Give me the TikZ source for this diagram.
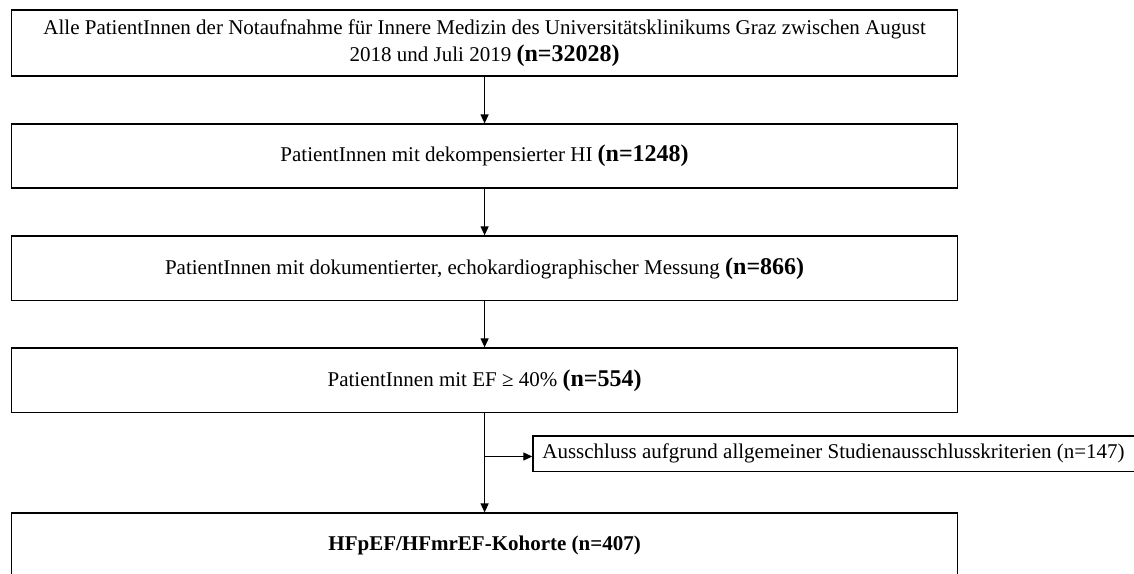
\documentclass[tikz,border=0pt]{standalone}
\usepackage{fontspec}
\setmainfont{Liberation Serif}
\usetikzlibrary{arrows.meta}

\newcommand{\regtext}{\fontsize{21}{26.5}\selectfont}
\newcommand{\ncount}[1]{{\fontsize{24}{26.5}\selectfont\bfseries #1}}

\tikzset{
  flowbox/.style={draw, line width=1.2pt, rectangle, align=center,
    minimum width=946.2pt, inner sep=0pt, font=\regtext},
  sidebox/.style={draw, line width=1.2pt, rectangle, anchor=west,
    minimum height=35.7pt, inner xsep=9.5pt, inner ysep=0pt, font=\regtext},
  flowarrow/.style={line width=1.2pt, -{Triangle[length=9pt,width=8pt]}}
}

\begin{document}
\begin{tikzpicture}[x=1pt,y=-1pt]
  \useasboundingbox[fill=white] (0,0) rectangle (1134,573);

  \node[flowbox, minimum height=66pt] (all) at (484.6,43)
    {Alle PatientInnen der Notaufnahme für Innere Medizin des Universitätsklinikums Graz zwischen August\\
     2018 und Juli 2019 \ncount{(n=32028)}};
  \node[flowbox, minimum height=64pt] (dekomp) at (484.6,156)
    {PatientInnen mit dekompensierter HI \ncount{(n=1248)}};
  \node[flowbox, minimum height=64.7pt] (echo) at (484.6,268.3)
    {PatientInnen mit dokumentierter, echokardiographischer Messung \ncount{(n=866)}};
  \node[flowbox, minimum height=64.7pt] (ef) at (484.6,380.3)
    {PatientInnen mit EF ≥ 40\% \ncount{(n=554)}};
  \node[flowbox, minimum height=64pt, font={\fontsize{21}{26}\selectfont\bfseries}] (kohorte) at (484.6,545)
    {HFpEF/HFmrEF-Kohorte (n=407)};

  % exclusion box runs past the right edge of the page
  \node[sidebox] (excl) at (532.3,453.8)
    {\makebox[620pt][l]{Ausschluss aufgrund allgemeiner Studienausschlusskriterien (n=147)}};

  \draw[flowarrow] (all.south) -- (dekomp.north);
  \draw[flowarrow] (dekomp.south) -- (echo.north);
  \draw[flowarrow] (echo.south) -- (ef.north);
  \draw[flowarrow] (ef.south) -- (kohorte.north);

  \coordinate (branch) at (484.6,456.5);
  \draw[flowarrow] (branch) -- (branch -| excl.west);
\end{tikzpicture}
\end{document}
